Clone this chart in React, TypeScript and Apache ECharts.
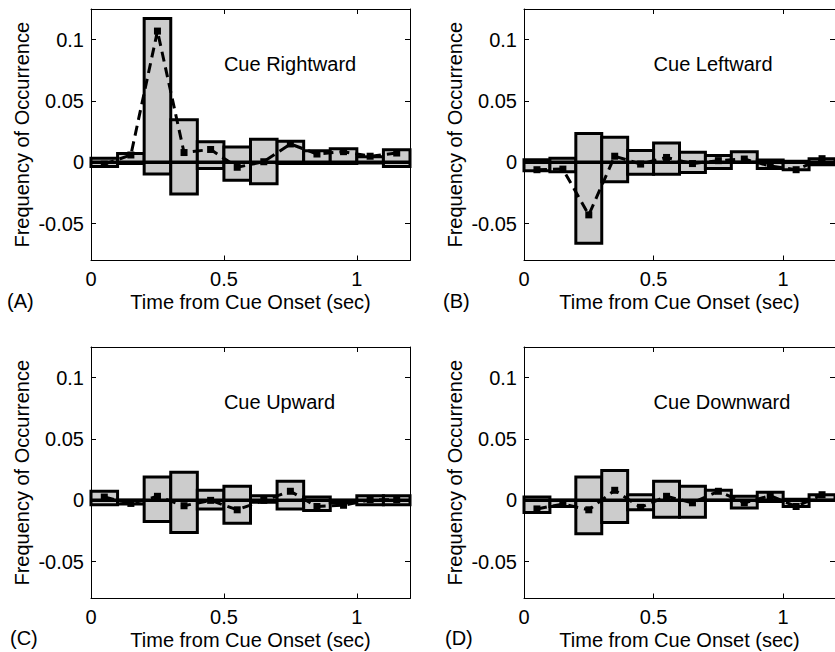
import React, { useEffect, useRef } from 'react';
import * as echarts from 'echarts';

// ---- data ----
const binLefts = [0, 0.1, 0.2, 0.3, 0.4, 0.5, 0.6, 0.7, 0.8, 0.9, 1.0, 1.1];
const binWidth = 0.1;
const binCenters = [0.05, 0.15, 0.25, 0.35, 0.45, 0.55, 0.65, 0.75, 0.85, 0.95, 1.05, 1.15];
const xRange = [0, 1.2];
const yRange = [-0.08, 0.125];
const xTicks = [0, 0.5, 1];
const xTickLabels = ['0', '0.5', '1'];
const yTicks = [-0.05, 0, 0.05, 0.1];
const yTickLabels = ['-0.05', '0', '0.05', '0.1'];
const zeroLine = [[0, 0], [1.2, 0]];
const titleAt = [0.5, 0.08];

const panelTitles = ['Cue Rightward', 'Cue Leftward', 'Cue Upward', 'Cue Downward'];
const panelLetters = ['(A)', '(B)', '(C)', '(D)'];
const xAxisTitle = 'Time from Cue Onset (sec)';
const yAxisTitle = 'Frequency of Occurrence';

const rightLow = [-0.0034, -0.001, -0.0095, -0.0258, -0.005, -0.0145, -0.0175, -0.001, -0.001, -0.001, -0.0005, -0.0033];
const rightHigh = [0.0033, 0.0073, 0.1173, 0.0347, 0.0168, 0.0125, 0.0188, 0.0172, 0.0095, 0.011, 0.0045, 0.0103];
const rightMean = [-0.0015, 0.006, 0.107, 0.008, 0.0105, -0.004, 0.0005, 0.015, 0.0068, 0.0087, 0.005, 0.0076];

const leftLow = [-0.0068, -0.0077, -0.0659, -0.0158, -0.0096, -0.0096, -0.0082, -0.005, 0, -0.005, -0.006, -0.002];
const leftHigh = [0.0022, 0.0033, 0.0236, 0.0205, 0.0096, 0.0158, 0.0082, 0.0055, 0.0087, 0.002, 0.001, 0.003];
const leftMean = [-0.006, -0.0055, -0.0428, 0.005, -0.0014, 0.004, -0.001, 0.0014, 0.0027, -0.003, -0.006, 0.003];

const upLow = [-0.0036, -0.003, -0.0172, -0.0262, -0.0071, -0.0186, -0.0016, -0.0071, -0.0082, -0.002, -0.0036, -0.0036];
const upHigh = [0.0074, 0, 0.019, 0.023, 0.0082, 0.0115, 0.0038, 0.0156, 0.0027, 0, 0.0038, 0.0038];
const upMean = [0.0027, -0.0025, 0.0033, -0.0044, 0, -0.0077, 0, 0.0074, -0.005, -0.004, 0.0005, 0.0005];

const downLow = [-0.0098, -0.005, -0.0273, -0.018, -0.0077, -0.0137, -0.0137, 0, -0.0063, -0.001, -0.005, 0];
const downHigh = [0.0027, 0, 0.019, 0.0243, 0.0046, 0.0156, 0.0115, 0.0082, 0.0033, 0.0066, 0.001, 0.0046];
const downMean = [-0.007, -0.003, -0.0077, 0.0082, -0.0057, 0.0033, -0.002, 0.0074, -0.002, 0.0038, -0.005, 0.0046];

const panelLows = [rightLow, leftLow, upLow, downLow];
const panelHighs = [rightHigh, leftHigh, upHigh, downHigh];
const panelMeans = [rightMean, leftMean, upMean, downMean];

// ---- layout ----
const FONT = 'Liberation Sans, Arial, Helvetica, sans-serif';
const FS = 20;
const gridPos = [
  { left: 91, top: 9 },
  { left: 524, top: 9 },
  { left: 91, top: 347 },
  { left: 524, top: 347 },
];
const GW = 319;
const GH = 251.5;
const letterPos = [
  { x: 7, y: 302 },
  { x: 443, y: 302 },
  { x: 10, y: 639 },
  { x: 445, y: 639 },
];

function buildOption() {
  const grid: any[] = [];
  const xAxis: any[] = [];
  const yAxis: any[] = [];
  const series: any[] = [];
  const graphic: any[] = [];

  const textStyle = { fontFamily: FONT, fontSize: FS, color: '#000' };

  for (let p = 0; p < 4; p++) {
    grid.push({
      left: gridPos[p].left,
      top: gridPos[p].top,
      width: GW,
      height: GH,
      show: false,
    });
    const xi = p * 2;
    const yi = p * 2;
    const commonX = {
      type: 'value',
      gridIndex: p,
      min: xRange[0],
      max: xRange[1],
      splitLine: { show: false },
      axisLine: { show: true, onZero: false, lineStyle: { color: '#000', width: 1 } },
      axisTick: { show: true, inside: true, length: 5, customValues: xTicks, lineStyle: { color: '#000', width: 1 } },
    };
    xAxis.push({
      ...commonX,
      position: 'bottom',
      axisLabel: {
        show: true,
        customValues: xTicks,
        margin: 8,
        ...textStyle,
        formatter: (v: number) => xTickLabels[xTicks.indexOf(v)] ?? String(v),
      },
      name: xAxisTitle,
      nameLocation: 'middle',
      nameGap: 31,
      nameTextStyle: textStyle,
    });
    xAxis.push({
      ...commonX,
      position: 'top',
      axisLabel: { show: false },
    });
    const commonY = {
      type: 'value',
      gridIndex: p,
      min: yRange[0],
      max: yRange[1],
      splitLine: { show: false },
      axisLine: { show: true, onZero: false, lineStyle: { color: '#000', width: 1 } },
      axisTick: { show: true, inside: true, length: 5, customValues: yTicks, lineStyle: { color: '#000', width: 1 } },
    };
    yAxis.push({
      ...commonY,
      position: 'left',
      axisLabel: {
        show: true,
        customValues: yTicks,
        margin: 7,
        ...textStyle,
        formatter: (v: number) => {
          const k = yTicks.findIndex((t) => Math.abs(t - v) < 1e-9);
          return k >= 0 ? yTickLabels[k] : String(v);
        },
      },
      name: yAxisTitle,
      nameLocation: 'middle',
      nameRotate: 90,
      nameGap: 59,
      nameTextStyle: textStyle,
    });
    yAxis.push({
      ...commonY,
      position: 'right',
      axisLabel: { show: false },
    });

    const lows = panelLows[p];
    const highs = panelHighs[p];
    const means = panelMeans[p];

    series.push({
      type: 'custom',
      xAxisIndex: xi,
      yAxisIndex: yi,
      z: 2,
      silent: true,
      data: binLefts.map((l, i) => [l, l + binWidth, lows[i], highs[i]]),
      encode: { x: [0, 1], y: [2, 3] },
      renderItem: (_params: any, api: any) => {
        const a = api.coord([api.value(0), api.value(3)]);
        const b = api.coord([api.value(1), api.value(2)]);
        return {
          type: 'rect',
          shape: { x: a[0], y: a[1], width: b[0] - a[0], height: b[1] - a[1] },
          style: { fill: '#cccccc', stroke: '#000', lineWidth: 3 },
        };
      },
    });
    series.push({
      type: 'line',
      xAxisIndex: xi,
      yAxisIndex: yi,
      z: 3,
      silent: true,
      data: zeroLine,
      symbol: 'none',
      lineStyle: { color: '#000', width: 3.5 },
    });
    series.push({
      type: 'line',
      xAxisIndex: xi,
      yAxisIndex: yi,
      z: 4,
      silent: true,
      data: binCenters.map((c, i) => [c, means[i]]),
      symbol: 'rect',
      symbolSize: 7,
      showAllSymbol: true,
      itemStyle: { color: '#000' },
      lineStyle: { color: '#000', width: 3, type: [10, 6] },
    });
    const title = panelTitles[p];
    series.push({
      type: 'custom',
      xAxisIndex: xi,
      yAxisIndex: yi,
      z: 5,
      silent: true,
      data: [titleAt],
      encode: { x: 0, y: 1 },
      renderItem: (_params: any, api: any) => {
        const pt = api.coord([api.value(0), api.value(1)]);
        return {
          type: 'text',
          x: pt[0],
          y: pt[1],
          style: {
            text: title,
            fontFamily: FONT,
            fontSize: FS,
            fill: '#000',
            align: 'left',
            verticalAlign: 'middle',
          },
        };
      },
    });
    graphic.push({
      type: 'text',
      left: letterPos[p].x,
      top: letterPos[p].y - 11,
      style: { text: panelLetters[p], font: `${FS}px ${FONT}`, fill: '#000' },
    });
  }

  return {
    animation: false,
    backgroundColor: '#fff',
    grid,
    xAxis,
    yAxis,
    series,
    graphic,
  };
}

export default function App() {
  const ref = useRef<HTMLDivElement>(null);
  useEffect(() => {
    if (!ref.current) return;
    const chart = echarts.init(ref.current, undefined, { renderer: 'svg' });
    chart.setOption(buildOption() as any);
    return () => chart.dispose();
  }, []);
  return (
    <div
      ref={ref}
      style={{ position: 'absolute', left: 0, top: 0, width: 835, height: 652, background: '#fff' }}
    />
  );
}
